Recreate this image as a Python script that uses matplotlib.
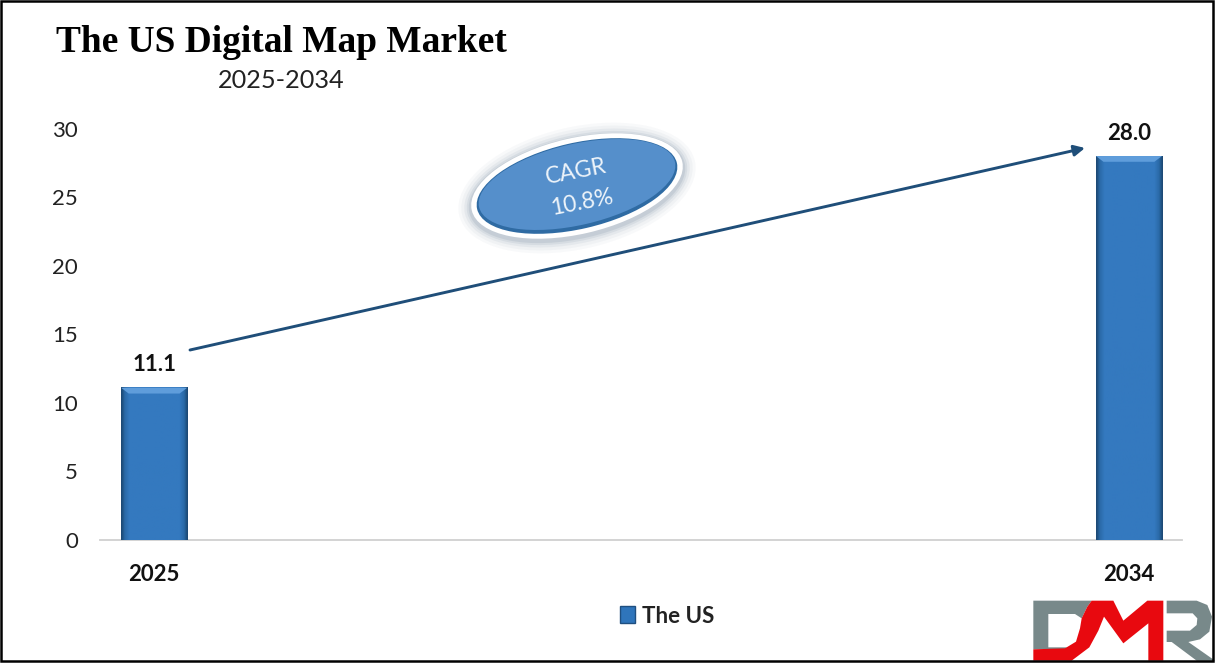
import matplotlib
matplotlib.use("Agg")
import matplotlib.pyplot as plt
import numpy as np
from matplotlib.colors import LinearSegmentedColormap
from matplotlib.patches import Ellipse, Patch, Polygon, Rectangle

years = [2025, 2034]
values = [11.1, 28.0]
value_labels = ["11.1", "28.0"]
yticks = [0, 5, 10, 15, 20, 25, 30]
series_name = "The US"
title = "The US Digital Map Market"
subtitle = "2025-2034"
cagr_text = "CAGR\n10.8%"

W, H = 1216, 663
plt.rcParams["font.family"] = ["Lato", "DejaVu Sans"]

fig = plt.figure(figsize=(W / 100, H / 100), dpi=100, facecolor="white")
ax = fig.add_axes([100 / W, 1 - 540 / H, 1082 / W, (540 - 128.6) / H])

bar_width = 0.61
bars = ax.bar(years, values, width=bar_width, color="#2f78c0", zorder=2)

# bevelled look on the bars
cmap = LinearSegmentedColormap.from_list(
    "bevel", [(0, "#1d4a76"), (0.05, "#2a6aa8"), (0.12, "#3479bf"), (0.88, "#3479bf"),
              (0.95, "#2a6aa8"), (1, "#1d4a76")])
grad = np.linspace(0, 1, 66)[None, :]
dx, dy = 0.07, 0.42
for b in bars:
    x0, x1 = b.get_x(), b.get_x() + b.get_width()
    top = b.get_height()
    ax.imshow(grad, extent=[x0, x1, 0, top], cmap=cmap, aspect="auto",
              interpolation="bilinear", zorder=3)
    ax.add_patch(Polygon([(x0, top), (x1, top), (x1 - dx, top - dy), (x0 + dx, top - dy)],
                         closed=True, color="#5f9ddb", lw=0, zorder=4))

ax.set_xlim(2024.5, 2034.49)
ax.set_ylim(0, 30)
ax.set_xticks(years)
ax.set_xticklabels([str(y) for y in years], fontsize=16, fontweight="bold", color="#111111")
ax.set_yticks(yticks)
ax.tick_params(axis="y", length=0, pad=16, labelsize=16, labelcolor="#222222")
ax.tick_params(axis="x", length=0, pad=17.5)
for s in ["top", "right", "left"]:
    ax.spines[s].set_visible(False)
ax.spines["bottom"].set_color("#d0d0d0")
ax.spines["bottom"].set_linewidth(1.3)

for x, v, lab in zip(years, values, value_labels):
    ax.annotate(lab, (x, v), xytext=(0, 9), textcoords="offset points",
                ha="center", va="bottom", fontsize=16, fontweight="bold", color="#111111")

leg = ax.legend(handles=[Patch(facecolor="#2f75bb", edgecolor="#1f4f80", label=series_name)],
                loc="center", bbox_to_anchor=(0.5245, -0.185), frameon=False,
                prop={"size": 16, "weight": "bold"}, handlelength=0.65, handleheight=0.8,
                handletextpad=0.35, labelcolor="#222222")

# overlay in pixel coordinates for the callout, arrow, logo and frame
ov = fig.add_axes([0, 0, 1, 1], facecolor="none")
ov.set_xlim(0, W)
ov.set_ylim(H, 0)
ov.axis("off")

ov.text(56, 42, title, family="Liberation Serif", fontweight="bold", fontsize=26.9,
        ha="left", va="center", color="black")
ov.text(218, 81, subtitle, fontsize=18.2, ha="left", va="center", color="#222222")

ov.annotate("", xy=(1085, 148), xytext=(190, 350),
            arrowprops=dict(arrowstyle="-|>", color="#1f4e79", lw=2.1, mutation_scale=16,
                            shrinkA=0, shrinkB=0))

# CAGR ellipse with soft shadow
cx, cy, ang = 577, 186, -13
for grow, alpha in [(26, 0.03), (20, 0.04), (14, 0.06), (9, 0.08), (5, 0.10)]:
    ov.add_patch(Ellipse((cx, cy + 2), 216 + grow, 96 + grow, angle=ang, color="#33526e",
                         alpha=alpha, lw=0))
ov.add_patch(Ellipse((cx, cy), 216, 96, angle=ang, facecolor="white", lw=0))
ov.add_patch(Ellipse((cx, cy), 205, 86, angle=ang, facecolor="#2f6ba3", lw=0))
ov.add_patch(Ellipse((cx, cy - 1.5), 201, 81, angle=ang, facecolor="#558fcb", lw=0))
ov.text(cx + 2, cy + 1, cagr_text, rotation=11, rotation_mode="anchor", ha="center", va="center",
        fontsize=16.5, color="#eef4fa", linespacing=1.6)

# DMR logo
def zp(points):
    return [(1000 + a / 3, 560 + c / 3) for a, c in points]

grey = "#78898a"
red = "#e8090f"
ov.add_patch(Polygon(zp([(100, 122), (275, 122), (262, 140), (245, 175), (225, 162),
                         (145, 162), (145, 262), (200, 262), (200, 268), (100, 268)]),
                     closed=True, color=grey, lw=0))
ov.add_patch(Polygon(zp([(275, 122), (340, 122), (370, 182), (442, 122),
                         (490, 122), (490, 302), (445, 302), (445, 190), (370, 250), (312, 170),
                         (295, 212), (268, 262), (215, 302), (100, 302), (100, 268),
                         (195, 265), (228, 245), (240, 205), (245, 175), (262, 140)]),
                     closed=True, color=red, lw=0))
ov.add_patch(Polygon(zp([(500, 122), (590, 122), (622, 135), (636, 170), (628, 215), (600, 238),
                         (565, 246), (645, 302), (590, 302), (515, 246), (500, 246), (500, 212),
                         (570, 212), (590, 195), (592, 175), (578, 160), (500, 160)]),
                     closed=True, color=grey, lw=0))

# outer frame
ov.add_patch(Rectangle((0.5, 0.5), 1212.5, 660, fill=False, edgecolor="black", lw=1.8))

fig.savefig("out.png", dpi=100, facecolor="white")
